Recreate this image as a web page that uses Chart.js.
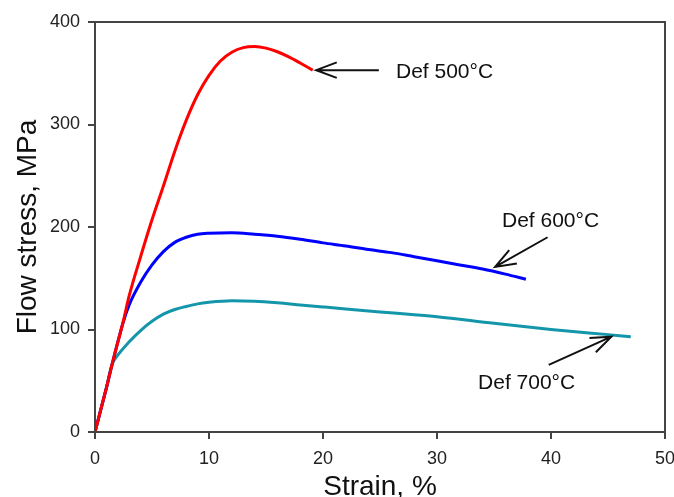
<!DOCTYPE html>
<html>
<head>
<meta charset="utf-8">
<script src="https://cdn.jsdelivr.net/npm/chart.js@4"></script>
<style>
  html, body { margin: 0; padding: 0; background: #fff; }
  canvas { display: block; }
</style>
</head>
<body>
<canvas id="flowChart" width="674" height="497"></canvas>
<script>
// Strain (%) / flow stress (MPa)
const strain500 = [0, 1, 1.5, 2.5, 3, 4, 5, 6, 7, 8, 9, 10, 11, 12, 13, 14, 15, 16, 17, 18, 19.1];
const stress500 = [0, 43, 66, 109, 133, 171, 207, 240, 274, 304, 329, 348, 362, 370.5, 375, 376, 374.5, 371, 366, 360, 353];

const strain600 = [0, 1, 1.5, 2.5, 3, 4, 5, 6, 7, 8, 9, 10, 12, 14, 16, 18, 20, 22, 24, 26, 28, 30, 32, 34, 36, 37.8];
const stress600 = [0, 43, 66, 108, 124, 146, 163, 176, 185, 190, 193, 194, 194.5, 193, 191, 188, 184.5, 181.5, 178, 175, 171, 167, 163, 159, 154, 149];

const strain700 = [0, 1, 1.5, 2, 3, 4, 5, 6, 7, 8, 9, 10, 12, 14, 16, 18, 20, 22, 25, 28, 30, 35, 40, 45, 47];
const stress700 = [0, 43, 66, 75, 88, 99, 108, 115, 119.5, 122.5, 125, 126.5, 128, 127.5, 126, 124, 122, 120, 117, 114.5, 112.5, 106, 100, 95, 93];

const xTicks = [0, 10, 20, 30, 40, 50];
const yTicks = [0, 100, 200, 300, 400];

// Callout labels with arrows, anchored in data units
const calloutText = ['Def 500°C', 'Def 600°C', 'Def 700°C'];
const calloutTextAt = [[26.4, 345.5], [35.7, 200], [33.6, 42]];
const calloutTail = [[24.9, 353], [39.7, 190], [39.8, 65.5]];
const calloutTip = [[19.4, 353], [35.1, 161], [45.3, 93]];

function toPoints(xs, ys) {
    return xs.map((x, i) => ({ x: x, y: ys[i] }));
}

// Draws the box frame plus the text/arrow callouts
const calloutPlugin = {
    id: 'callouts',
    afterDatasetsDraw(chart) {
        const ctx = chart.ctx;
        const xs = chart.scales.x;
        const ys = chart.scales.y;
        const area = chart.chartArea;

        ctx.save();
        ctx.strokeStyle = '#444';
        ctx.lineWidth = 2;
        ctx.strokeRect(area.left, area.top, area.right - area.left, area.bottom - area.top);

        ctx.fillStyle = '#111';
        ctx.strokeStyle = '#111';
        ctx.lineWidth = 2;
        ctx.font = '21px "Liberation Sans", Arial, sans-serif';
        ctx.textAlign = 'left';
        ctx.textBaseline = 'alphabetic';

        calloutText.forEach((txt, i) => {
            ctx.fillText(txt, xs.getPixelForValue(calloutTextAt[i][0]), ys.getPixelForValue(calloutTextAt[i][1]));

            const x0 = xs.getPixelForValue(calloutTail[i][0]);
            const y0 = ys.getPixelForValue(calloutTail[i][1]);
            const x1 = xs.getPixelForValue(calloutTip[i][0]);
            const y1 = ys.getPixelForValue(calloutTip[i][1]);
            const ang = Math.atan2(y1 - y0, x1 - x0);
            const head = 22;
            const spread = 0.36;

            ctx.beginPath();
            ctx.moveTo(x0, y0);
            ctx.lineTo(x1, y1);
            ctx.moveTo(x1 - head * Math.cos(ang - spread), y1 - head * Math.sin(ang - spread));
            ctx.lineTo(x1, y1);
            ctx.lineTo(x1 - head * Math.cos(ang + spread), y1 - head * Math.sin(ang + spread));
            ctx.stroke();
        });
        ctx.restore();
    }
};

const ctx = document.getElementById('flowChart').getContext('2d');

const flowChart = new Chart(ctx, {
    type: 'scatter',
    data: {
        datasets: [
            {
                label: 'Def 500°C',
                data: toPoints(strain500, stress500),
                borderColor: '#ff0000',
                borderWidth: 3,
                showLine: true,
                pointRadius: 0,
                cubicInterpolationMode: 'monotone'
            },
            {
                label: 'Def 600°C',
                data: toPoints(strain600, stress600),
                borderColor: '#0000ff',
                borderWidth: 3,
                showLine: true,
                pointRadius: 0,
                cubicInterpolationMode: 'monotone'
            },
            {
                label: 'Def 700°C',
                data: toPoints(strain700, stress700),
                borderColor: '#1496aa',
                borderWidth: 3,
                showLine: true,
                pointRadius: 0,
                cubicInterpolationMode: 'monotone'
            }
        ]
    },
    options: {
        responsive: false,
        animation: false,
        layout: {
            padding: { left: 0, top: 22, right: 0, bottom: 0 }
        },
        plugins: {
            legend: { display: false },
            tooltip: { enabled: false }
        },
        scales: {
            x: {
                type: 'linear',
                min: 0,
                max: 50,
                afterBuildTicks: (scale) => { scale.ticks = xTicks.map(v => ({ value: v })); },
                afterFit: (scale) => {
                    scale.height = 65;
                    scale.paddingLeft = 0;
                    scale.paddingRight = 9;
                },
                grid: {
                    drawOnChartArea: false,
                    drawTicks: true,
                    tickLength: 7,
                    color: '#444',
                    lineWidth: 2
                },
                border: { color: '#444', width: 2 },
                ticks: {
                    padding: 9,
                    color: '#222',
                    font: { family: '"Liberation Sans", Arial, sans-serif', size: 18 }
                },
                title: {
                    display: true,
                    text: 'Strain, %',
                    color: '#111',
                    padding: { top: 0, bottom: 0 },
                    font: { family: '"Liberation Sans", Arial, sans-serif', size: 28, lineHeight: 0.7 }
                }
            },
            y: {
                type: 'linear',
                min: 0,
                max: 400,
                afterBuildTicks: (scale) => { scale.ticks = yTicks.map(v => ({ value: v })); },
                afterFit: (scale) => {
                    scale.width = 95;
                    scale.paddingTop = 0;
                    scale.paddingBottom = 0;
                },
                grid: {
                    drawOnChartArea: false,
                    drawTicks: true,
                    tickLength: 7,
                    color: '#444',
                    lineWidth: 2
                },
                border: { color: '#444', width: 2 },
                ticks: {
                    padding: 8,
                    color: '#222',
                    font: { family: '"Liberation Sans", Arial, sans-serif', size: 18 }
                },
                title: {
                    display: true,
                    text: 'Flow stress, MPa',
                    color: '#111',
                    padding: { top: 14, bottom: 0 },
                    font: { family: '"Liberation Sans", Arial, sans-serif', size: 28, lineHeight: 1 }
                }
            }
        }
    },
    plugins: [calloutPlugin]
});
</script>
</body>
</html>
